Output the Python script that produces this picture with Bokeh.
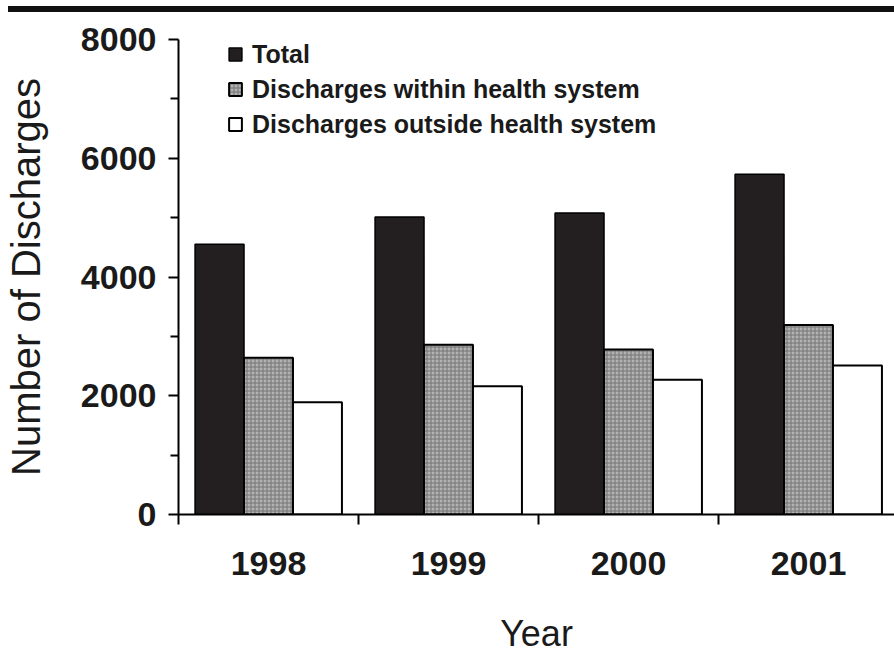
from bokeh.plotting import figure
from bokeh.models import (Range1d, FixedTicker, Legend, LegendItem, ColumnDataSource, Div)
from bokeh.layouts import column
from bokeh.embed import file_html
from bokeh.resources import INLINE

# ---- data ----
years = ["1998", "1999", "2000", "2001"]
total = [4550, 5010, 5080, 5730]
within = [2640, 2860, 2780, 3190]
outside = [1890, 2160, 2270, 2510]
y_major = [0, 2000, 4000, 6000, 8000]
y_minor = [1000, 3000, 5000, 7000]
series_names = ["Total", "Discharges within health system", "Discharges outside health system"]

# layout constants
BAR_W = 0.272
FIG_H = 651
idx = list(range(len(years)))
centers = [i + 0.5 for i in idx]

p = figure(width=894, height=FIG_H, output_backend="svg", toolbar_location=None,
           x_range=Range1d(0, 716 / 180), y_range=Range1d(0, 8000),
           min_border_left=178, min_border_right=0, min_border_top=27, min_border_bottom=149)
p.outline_line_color = None
p.xgrid.visible = False
p.ygrid.visible = False
p.background_fill_color = "white"
p.border_fill_color = "white"

src = ColumnDataSource(dict(
    x_total=[c - BAR_W for c in centers],
    x_within=centers,
    x_outside=[c + BAR_W for c in centers],
    total=total, within=within, outside=outside))

r_total = p.vbar(x="x_total", top="total", width=BAR_W, bottom=0, source=src,
                 fill_color="#231f20", line_color="black", line_width=1.5)
r_within = p.vbar(x="x_within", top="within", width=BAR_W, bottom=0, source=src,
                  fill_color="#b2b2b2", line_color="black", line_width=2,
                  hatch_pattern="cross", hatch_color="#747474", hatch_scale=4, hatch_weight=1)
r_outside = p.vbar(x="x_outside", top="outside", width=BAR_W, bottom=0, source=src,
                   fill_color="white", line_color="black", line_width=2)

# y axis
ya = p.yaxis[0]
ya.ticker = FixedTicker(ticks=y_major, minor_ticks=y_minor)
ya.axis_label = "Number of Discharges"
ya.axis_label_text_font = "Liberation Sans"
ya.axis_label_text_font_style = "normal"
ya.axis_label_text_font_size = "40px"
ya.axis_label_text_color = "#1a1a1a"
ya.axis_label_standoff = 30
ya.major_label_text_font = "Liberation Sans"
ya.major_label_text_font_style = "bold"
ya.major_label_text_font_size = "34px"
ya.major_label_text_color = "#1a1a1a"
ya.major_label_standoff = 12
ya.major_tick_in = 0
ya.major_tick_out = 10
ya.minor_tick_in = 0
ya.minor_tick_out = 8
ya.axis_line_width = 2
ya.major_tick_line_width = 2
ya.minor_tick_line_width = 2
ya.axis_line_color = "black"

# x axis
xa = p.xaxis[0]
xa.ticker = FixedTicker(ticks=centers, minor_ticks=[0, 1, 2, 3, 4])
xa.major_label_overrides = {c: y for c, y in zip(centers, years)}
xa.axis_label = "Year"
xa.axis_label_text_font = "Liberation Sans"
xa.axis_label_text_font_style = "normal"
xa.axis_label_text_font_size = "36px"
xa.axis_label_text_color = "#1a1a1a"
xa.axis_label_standoff = 35
xa.major_label_text_font = "Liberation Sans"
xa.major_label_text_font_style = "bold"
xa.major_label_text_font_size = "34px"
xa.major_label_text_color = "#1a1a1a"
xa.major_label_standoff = 27
xa.major_tick_in = 0
xa.major_tick_out = 0
xa.minor_tick_in = 0
xa.minor_tick_out = 10
xa.axis_line_width = 2
xa.minor_tick_line_width = 2
xa.axis_line_color = "black"

legend = Legend(items=[
    LegendItem(label=series_names[0], renderers=[r_total]),
    LegendItem(label=series_names[1], renderers=[r_within]),
    LegendItem(label=series_names[2], renderers=[r_outside]),
], location=(49, 375), padding=0, margin=0, spacing=5,
    glyph_width=16, glyph_height=16, label_height=30, label_standoff=9,
    label_text_font="Liberation Sans", label_text_font_style="bold",
    label_text_font_size="25px", label_text_color="#1a1a1a",
    border_line_color=None, background_fill_alpha=0)
p.add_layout(legend, "center")

bar = Div(width=886, height=6, margin=(6, 0, 0, 8), styles={"background-color": "#111111"})
layout = column(bar, p, spacing=0)

open("out.html", "w").write(file_html(layout, INLINE))
